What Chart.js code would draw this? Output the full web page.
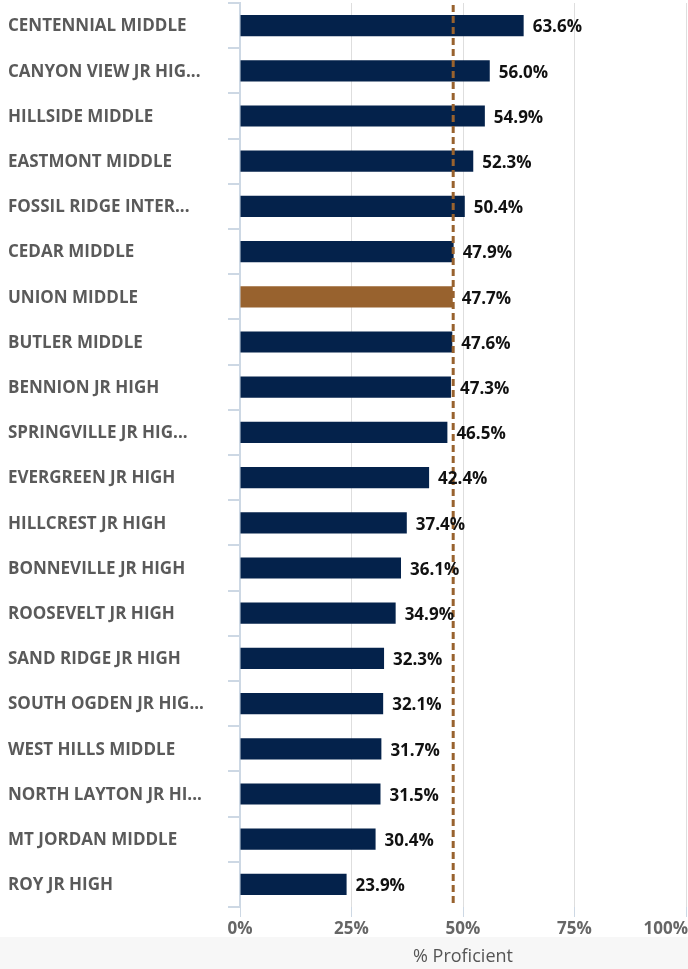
<!DOCTYPE html>
<html>
<head>
<meta charset="utf-8">
<script src="https://cdn.jsdelivr.net/npm/chart.js@4.4.1/dist/chart.umd.min.js"></script>
<style>
  html, body { margin: 0; padding: 0; background: #fff; }
  #wrap { position: relative; width: 688px; height: 969px; }
</style>
</head>
<body>
<div id="wrap"><canvas id="proficiency"></canvas></div>
<script>
'use strict';

// ===== data =====
var schools = [
  'CENTENNIAL MIDDLE', 'CANYON VIEW JR HIG...', 'HILLSIDE MIDDLE', 'EASTMONT MIDDLE',
  'FOSSIL RIDGE INTER...', 'CEDAR MIDDLE', 'UNION MIDDLE', 'BUTLER MIDDLE',
  'BENNION JR HIGH', 'SPRINGVILLE JR HIG...', 'EVERGREEN JR HIGH', 'HILLCREST JR HIGH',
  'BONNEVILLE JR HIGH', 'ROOSEVELT JR HIGH', 'SAND RIDGE JR HIGH', 'SOUTH OGDEN JR HIG...',
  'WEST HILLS MIDDLE', 'NORTH LAYTON JR HI...', 'MT JORDAN MIDDLE', 'ROY JR HIGH'
];
var percentProficient = [63.6, 56.0, 54.9, 52.3, 50.4, 47.9, 47.7, 47.6, 47.3, 46.5,
  42.4, 37.4, 36.1, 34.9, 32.3, 32.1, 31.7, 31.5, 30.4, 23.9];
var highlightSchool = 'UNION MIDDLE';
var averageLine = 47.8;
var xTicks = [0, 25, 50, 75, 100];
var axisTitle = '% Proficient';

var navy = '#04224b';
var brown = '#98622e';

var barColors = schools.map(function (s) {
  return s === highlightSchool ? brown : navy;
});

// ===== plugins =====
var extras = {
  id: 'extras',
  beforeDraw: function (chart) {
    var ctx = chart.ctx;
    ctx.save();
    ctx.fillStyle = '#f7f7f7';
    ctx.fillRect(0, 937, chart.width, chart.height - 937);
    ctx.restore();
  },
  afterDatasetsDraw: function (chart) {
    var ctx = chart.ctx;
    var x = chart.scales.x;
    var area = chart.chartArea;
    ctx.save();

    // average dashed line
    var ax = x.getPixelForValue(averageLine);
    ctx.strokeStyle = brown;
    ctx.lineWidth = 3;
    ctx.setLineDash([7, 4]);
    ctx.beginPath();
    ctx.moveTo(ax, area.top + 2);
    ctx.lineTo(ax, area.bottom - 4);
    ctx.stroke();
    ctx.setLineDash([]);

    // value labels
    var meta = chart.getDatasetMeta(0);
    ctx.font = 'bold 17px "Open Sans"';
    ctx.fillStyle = '#111';
    ctx.textAlign = 'left';
    ctx.textBaseline = 'middle';
    meta.data.forEach(function (bar, i) {
      ctx.fillText(percentProficient[i].toFixed(1) + '%', bar.x + 9, bar.y + 2);
    });

    // x tick labels
    ctx.font = 'bold 17px "Open Sans"';
    ctx.fillStyle = '#666';
    xTicks.forEach(function (t, i) {
      var last = i === xTicks.length - 1;
      ctx.textAlign = last ? 'right' : 'center';
      ctx.fillText(t + '%', last ? chart.width : x.getPixelForValue(t), 929);
    });

    // axis title
    ctx.font = '18px "Open Sans"';
    ctx.fillStyle = '#555';
    ctx.textAlign = 'center';
    ctx.fillText(axisTitle, x.getPixelForValue(50), 957);
    ctx.restore();
  }
};

// ===== chart =====
var ctx = document.getElementById('proficiency').getContext('2d');
var chart = new Chart(ctx, {
  type: 'bar',
  data: {
    labels: schools,
    datasets: [{
      data: percentProficient,
      backgroundColor: barColors,
      categoryPercentage: 1,
      barPercentage: 0.47
    }]
  },
  options: {
    indexAxis: 'y',
    responsive: true,
    maintainAspectRatio: false,
    animation: false,
    layout: { padding: { left: 8, right: 2, top: 3, bottom: 52 } },
    plugins: { legend: { display: false }, tooltip: { enabled: false } },
    scales: {
      x: {
        min: 0,
        max: 100,
        afterBuildTicks: function (scale) {
          scale.ticks = xTicks.map(function (v) { return { value: v }; });
        },
        ticks: { display: false },
        border: { display: false },
        grid: {
          color: '#dedede',
          tickColor: '#cdd8e4',
          tickLength: 10,
          lineWidth: 1
        }
      },
      y: {
        afterFit: function (scale) {
          scale.width = 232;
          scale.paddingTop = 0;
          scale.paddingBottom = 0;
        },
        border: { color: '#cdd8e4', width: 2 },
        grid: {
          drawOnChartArea: false,
          color: '#cdd8e4',
          tickLength: 12,
          lineWidth: 2
        },
        ticks: {
          crossAlign: 'far',
          color: '#5a5a5a',
          labelOffset: 1,
          font: { family: 'Open Sans', size: 17, weight: 'bold' }
        }
      }
    }
  },
  plugins: [extras]
});
</script>
</body>
</html>
